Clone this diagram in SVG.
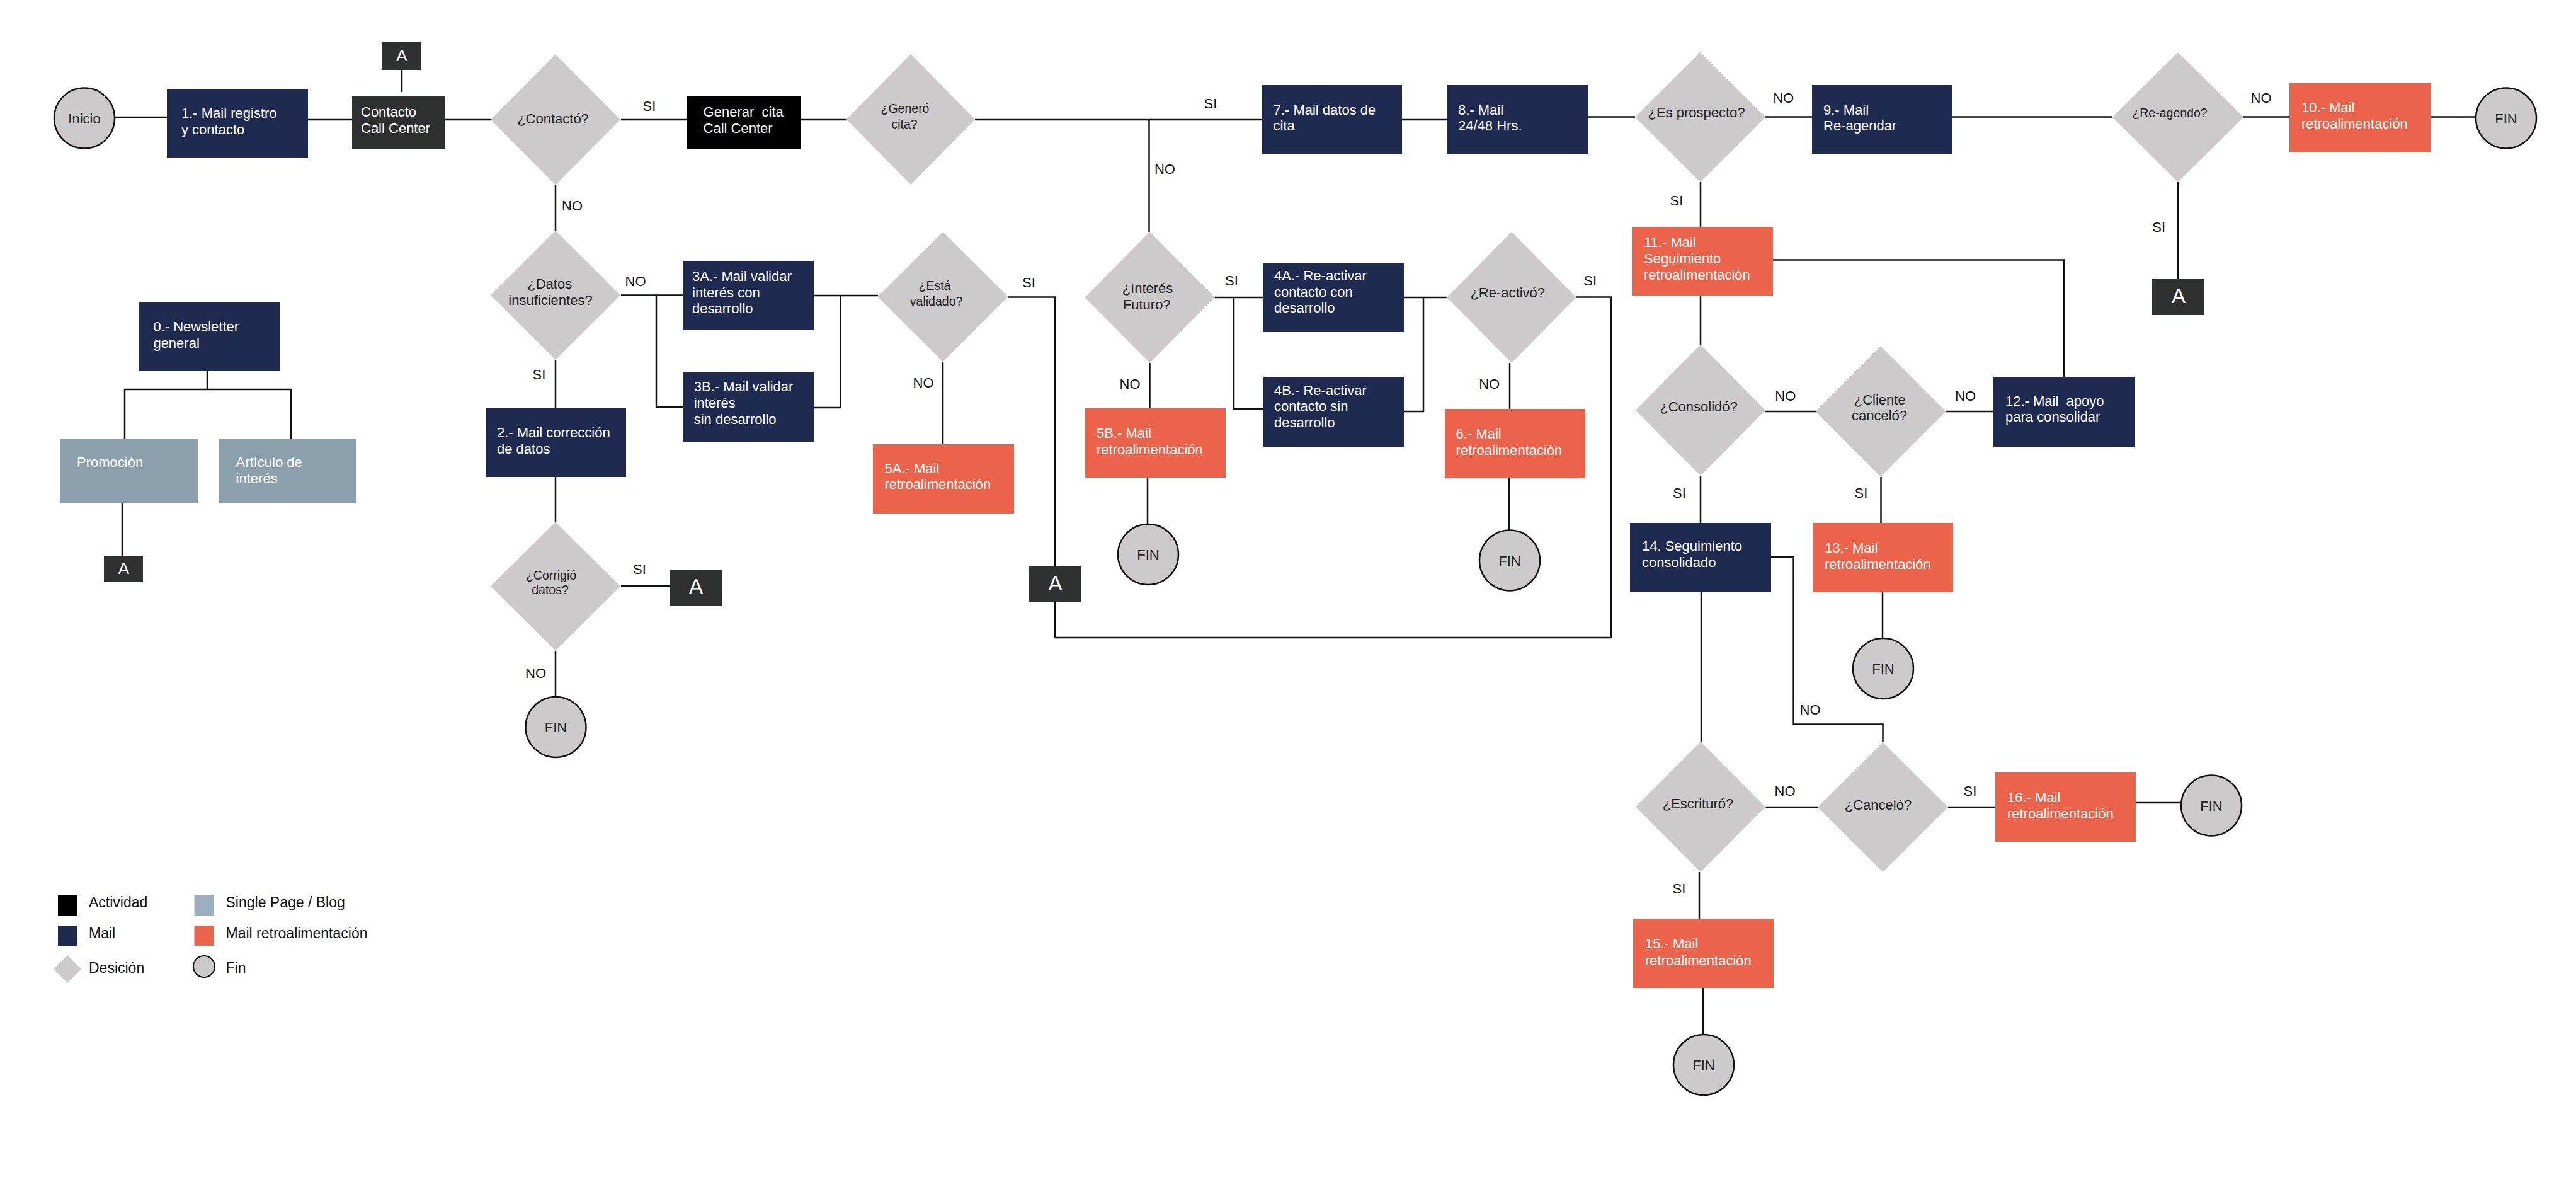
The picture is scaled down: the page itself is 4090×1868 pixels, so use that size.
<svg xmlns="http://www.w3.org/2000/svg" width="4090" height="1868" viewBox="0 0 4090 1868">
<style>
.bg{fill:#ffffff}
.navy{fill:#1e2a4f}
.orange{fill:#eb634a}
.dark{fill:#2f3130}
.black{fill:#000000}
.slate{fill:#8b9fad}
.slate2{fill:#9cafbe}
.dia{fill:#cdcacb}
.circ{fill:#cdcacb;stroke:#111;stroke-width:2.5}
.wt{font-family:"Liberation Sans",Arial,sans-serif;font-size:22px;fill:#ffffff;white-space:pre}
.dt{font-family:"Liberation Sans",Arial,sans-serif;font-size:22px;fill:#222222;text-anchor:middle}
.ds{font-size:19.5px}
.lb{font-family:"Liberation Sans",Arial,sans-serif;font-size:22px;fill:#111111;text-anchor:middle}
.at{font-family:"Liberation Sans",Arial,sans-serif;fill:#ffffff;text-anchor:middle}
.lg{font-family:"Liberation Sans",Arial,sans-serif;font-size:23px;fill:#111111}
.conn{fill:none;stroke:#111111;stroke-width:2.5}
</style>
<rect class="bg" x="0" y="0" width="4090" height="1868"/>

<g id="connectors">
<path class="conn" d="M182 186 H265 M489 190 H559 M638 111 V146 M706 190 H779 M986 190 H1090 M1272 190 H1345 M1548 190 H2003 M1824.5 190 V368 M2226 190 H2297 M2521 185.5 H2596 M2803 185.5 H2877 M3100 185.5 H3354 M3562 185.5 H3635 M3859 185.5 H3931 M3458 289 V443 M2700 289 V360"/>
<path class="conn" d="M2815 412.5 H3277 V599 M2700 469 V547 M2803 653 H2883 M3090 653 H3165 M2700 755 V830 M2986.5 757 V830 M2989 940 V1013 M2701 940 V1177 M2812 884 H2847.6 V1149.6 H2989.5 V1178 M2803.5 1281 H2886 M3093 1281 H3168 M3391 1274 H3463 M2698 1384 V1458 M2704 1568 V1642"/>
<path class="conn" d="M882 293 V366 M986 468.5 H1085 M1042 468.5 V646 H1085 M882 571 V648 M882 757 V829 M986 930 H1063 M882 1033 V1106 M1292 469 H1394 M1334.5 469 V647 H1292 M1600.5 471.5 H1675 V898 M1675 956 V1012 H2558 V471.5 H2502.5 M1497 574 V705 M1928.5 472 H2005 M1959 472 V649 H2005 M1825.5 576 V648 M1822 758 V832 M2229 472 H2297.5 M2260 472 V653 H2229 M2397 576 V649 M2396 759 V841"/>
<path class="conn" d="M329 589 V618 M198 696 V618 H462 V696 M194 798 V882"/>
</g>

<g id="labels">
<text class="lb" x="1031" y="176">SI</text>
<text class="lb" x="908.5" y="334">NO</text>
<text class="lb" x="1009" y="454">NO</text>
<text class="lb" x="856" y="602">SI</text>
<text class="lb" x="1015.5" y="911">SI</text>
<text class="lb" x="850.5" y="1076">NO</text>
<text class="lb" x="1922" y="172">SI</text>
<text class="lb" x="1849.4" y="276">NO</text>
<text class="lb" x="1633.6" y="456">SI</text>
<text class="lb" x="1466" y="615">NO</text>
<text class="lb" x="1955.5" y="453">SI</text>
<text class="lb" x="1794" y="617">NO</text>
<text class="lb" x="2524.7" y="453">SI</text>
<text class="lb" x="2364.7" y="617">NO</text>
<text class="lb" x="2831.7" y="162.5">NO</text>
<text class="lb" x="2662" y="325.7">SI</text>
<text class="lb" x="3590" y="162.5">NO</text>
<text class="lb" x="3427.7" y="367.5">SI</text>
<text class="lb" x="2834.8" y="636">NO</text>
<text class="lb" x="3120.5" y="636">NO</text>
<text class="lb" x="2666.5" y="790">SI</text>
<text class="lb" x="2955" y="790">SI</text>
<text class="lb" x="2874" y="1134">NO</text>
<text class="lb" x="2834" y="1263">NO</text>
<text class="lb" x="3128" y="1263">SI</text>
<text class="lb" x="2666" y="1418">SI</text>
</g>

<g id="inicio"><circle class="circ" cx="134" cy="187.5" r="48"/><text class="dt" x="134" y="195.5">Inicio</text></g>
<g id="n1"><rect class="navy" x="265" y="141" width="224" height="109"/><text class="wt" x="288" y="187">1.- Mail registro</text><text class="wt" x="288" y="213">y contacto</text></g>
<g id="contacto"><rect class="dark" x="559" y="153" width="147" height="84"/><text class="wt" x="573" y="184.6">Contacto</text><text class="wt" x="573" y="211.4">Call Center</text></g>
<g id="a-top"><rect class="dark" x="606" y="67" width="63" height="44"/><text class="at" x="638" y="97" font-size="26">A</text></g>
<g id="d-contacto"><polygon class="dia" points="882,86.5 985,190 882,293.5 779,190"/><text class="dt" x="878" y="196">¿Contactó?</text></g>
<g id="generar"><rect class="black" x="1090" y="153" width="182" height="84"/><text class="wt" x="1116.6" y="184.6">Generar  cita</text><text class="wt" x="1116.6" y="210.7">Call Center</text></g>
<g id="d-genero"><polygon class="dia" points="1446,86 1548,189.5 1446,293 1344,189.5"/><text class="dt ds" x="1437" y="179.3">¿Generó</text><text class="dt ds" x="1436" y="203.6">cita?</text></g>
<g id="n7"><rect class="navy" x="2003" y="135" width="223" height="110"/><text class="wt" x="2021.6" y="181.8">7.- Mail datos de</text><text class="wt" x="2021.6" y="207">cita</text></g>
<g id="n8"><rect class="navy" x="2297" y="135" width="224" height="110"/><text class="wt" x="2315" y="181.8">8.- Mail</text><text class="wt" x="2315" y="207">24/48 Hrs.</text></g>
<g id="d-prospecto"><polygon class="dia" points="2699.5,83 2803,186 2699.5,289 2596,186"/><text class="dt" x="2693.5" y="185.7">¿Es prospecto?</text></g>
<g id="n9"><rect class="navy" x="2877" y="135" width="223" height="110"/><text class="wt" x="2895" y="181.8">9.- Mail</text><text class="wt" x="2895" y="207">Re-agendar</text></g>
<g id="d-reagendo"><polygon class="dia" points="3458,83 3562,186 3458,289 3354,186"/><text class="dt ds" x="3445" y="185.7">¿Re-agendo?</text></g>
<g id="n10"><rect class="orange" x="3635" y="132" width="224" height="110"/><text class="wt" x="3654" y="177.5">10.- Mail</text><text class="wt" x="3654" y="203.6">retroalimentación</text></g>
<g id="fin1"><circle class="circ" cx="3979" cy="187.5" r="48"/><text class="dt" x="3979" y="195.5">FIN</text></g>
<g id="a-right"><rect class="dark" x="3417" y="443" width="83" height="57"/><text class="at" x="3459" y="481" font-size="33">A</text></g>
<g id="n11"><rect class="orange" x="2591" y="360" width="224" height="109"/><text class="wt" x="2610" y="391.8">11.- Mail</text><text class="wt" x="2610" y="417.9">Seguimiento</text><text class="wt" x="2610" y="443.6">retroalimentación</text></g>
<g id="d-consolido"><polygon class="dia" points="2700,547 2803,651 2700,755 2597,651"/><text class="dt" x="2697" y="653">¿Consolidó?</text></g>
<g id="d-cliente"><polygon class="dia" points="2986,549.5 3089.5,653 2986,756.5 2882.5,653"/><text class="dt" x="2984.7" y="642">¿Cliente</text><text class="dt" x="2984" y="667.4">canceló?</text></g>
<g id="n12"><rect class="navy" x="3165" y="599" width="225" height="110"/><text class="wt" x="3184" y="643.75">12.- Mail  apoyo</text><text class="wt" x="3184" y="668.75">para consolidar</text></g>
<g id="n14"><rect class="navy" x="2588" y="830" width="224" height="110"/><text class="wt" x="2607" y="874">14. Seguimiento</text><text class="wt" x="2607" y="899.5">consolidado</text></g>
<g id="n13"><rect class="orange" x="2878" y="830" width="223" height="110"/><text class="wt" x="2897" y="877">13.- Mail</text><text class="wt" x="2897" y="903">retroalimentación</text></g>
<g id="fin13"><circle class="circ" cx="2990" cy="1061" r="48"/><text class="dt" x="2990" y="1069">FIN</text></g>
<g id="d-escrituro"><polygon class="dia" points="2700,1177 2803,1280.5 2700,1384 2597,1280.5"/><text class="dt" x="2696" y="1283">¿Escrituró?</text></g>
<g id="d-cancelo"><polygon class="dia" points="2989.5,1178 3093,1281 2989.5,1384 2886,1281"/><text class="dt" x="2982" y="1285">¿Canceló?</text></g>
<g id="n16"><rect class="orange" x="3168" y="1226" width="223" height="110"/><text class="wt" x="3187" y="1273">16.- Mail</text><text class="wt" x="3187" y="1298.7">retroalimentación</text></g>
<g id="fin16"><circle class="circ" cx="3511" cy="1278.5" r="48"/><text class="dt" x="3511" y="1286.5">FIN</text></g>
<g id="n15"><rect class="orange" x="2593" y="1458" width="223" height="110"/><text class="wt" x="2612" y="1505">15.- Mail</text><text class="wt" x="2612" y="1531.7">retroalimentación</text></g>
<g id="fin15"><circle class="circ" cx="2705" cy="1690" r="48"/><text class="dt" x="2705" y="1698">FIN</text></g>
<g id="d-datos"><polygon class="dia" points="882,366 985,468.5 882,571 779,468.5"/><text class="dt" x="872.7" y="458">¿Datos</text><text class="dt" x="874" y="484">insuficientes?</text></g>
<g id="n2"><rect class="navy" x="771" y="648" width="223" height="109"/><text class="wt" x="789" y="694.4">2.- Mail corrección</text><text class="wt" x="789" y="720">de datos</text></g>
<g id="d-corrigio"><polygon class="dia" points="882,828.5 985,930.5 882,1032.5 779,930.5"/><text class="dt ds" x="875" y="920.4">¿Corrigió</text><text class="dt ds" x="873.5" y="943">datos?</text></g>
<g id="a-corrigio"><rect class="dark" x="1063" y="904" width="83" height="57"/><text class="at" x="1105" y="942" font-size="33">A</text></g>
<g id="fin2"><circle class="circ" cx="882.5" cy="1154" r="48"/><text class="dt" x="882.5" y="1162">FIN</text></g>
<g id="n3a"><rect class="navy" x="1085" y="414" width="207" height="110"/><text class="wt" x="1099" y="446">3A.- Mail validar</text><text class="wt" x="1099" y="471.7">interés con</text><text class="wt" x="1099" y="497.3">desarrollo</text></g>
<g id="n3b"><rect class="navy" x="1085" y="591" width="207" height="110"/><text class="wt" x="1101.7" y="620.7">3B.- Mail validar</text><text class="wt" x="1101.7" y="646.7">interés</text><text class="wt" x="1101.7" y="673.3">sin desarrollo</text></g>
<g id="d-validado"><polygon class="dia" points="1497,368 1600.5,471 1497,574 1393.5,471"/><text class="dt ds" x="1484" y="460">¿Está</text><text class="dt ds" x="1486.6" y="485">validado?</text></g>
<g id="n5a"><rect class="orange" x="1386" y="705" width="224" height="110"/><text class="wt" x="1404.5" y="750.6">5A.- Mail</text><text class="wt" x="1404.5" y="776">retroalimentación</text></g>
<g id="a-loop"><rect class="dark" x="1633" y="898" width="83" height="58"/><text class="at" x="1675.6" y="937" font-size="33">A</text></g>
<g id="d-interes"><polygon class="dia" points="1825.5,368 1928.5,472 1825.5,576 1722.5,472"/><text class="dt" x="1822" y="465">¿Interés</text><text class="dt" x="1820.7" y="490.8">Futuro?</text></g>
<g id="n5b"><rect class="orange" x="1723" y="648" width="223" height="110"/><text class="wt" x="1741" y="694.8">5B.- Mail</text><text class="wt" x="1741" y="720.7">retroalimentación</text></g>
<g id="fin5b"><circle class="circ" cx="1823" cy="880" r="48"/><text class="dt" x="1823" y="888">FIN</text></g>
<g id="n4a"><rect class="navy" x="2005" y="417" width="224" height="110"/><text class="wt" x="2023" y="444.8">4A.- Re-activar</text><text class="wt" x="2023" y="470.7">contacto con</text><text class="wt" x="2023" y="496">desarrollo</text></g>
<g id="n4b"><rect class="navy" x="2005" y="599" width="224" height="110"/><text class="wt" x="2023" y="626.5">4B.- Re-activar</text><text class="wt" x="2023" y="652.4">contacto sin</text><text class="wt" x="2023" y="678">desarrollo</text></g>
<g id="d-reactivo"><polygon class="dia" points="2400,368 2502.5,472 2400,576 2297.5,472"/><text class="dt" x="2393.7" y="471.6">¿Re-activó?</text></g>
<g id="n6"><rect class="orange" x="2294" y="649" width="223" height="110"/><text class="wt" x="2311.6" y="695.7">6.- Mail</text><text class="wt" x="2311.6" y="721.6">retroalimentación</text></g>
<g id="fin6"><circle class="circ" cx="2397" cy="889.5" r="48"/><text class="dt" x="2397" y="897.5">FIN</text></g>
<g id="n0"><rect class="navy" x="221" y="480" width="223" height="109"/><text class="wt" x="243.4" y="526">0.- Newsletter</text><text class="wt" x="243.4" y="552">general</text></g>
<g id="promocion"><rect class="slate" x="95" y="696" width="219" height="102"/><text class="wt" x="122" y="740.8">Promoción</text></g>
<g id="articulo"><rect class="slate" x="348" y="696" width="218" height="102"/><text class="wt" x="374.6" y="740.8">Artículo de</text><text class="wt" x="374.6" y="767">interés</text></g>
<g id="a-news"><rect class="dark" x="165" y="882" width="62" height="42"/><text class="at" x="196.5" y="911" font-size="26">A</text></g>

<g id="legend">
<rect class="black" x="92" y="1421" width="31" height="32"/><text class="lg" x="141" y="1440">Actividad</text>
<rect class="navy" x="92" y="1469" width="31" height="32"/><text class="lg" x="141" y="1489">Mail</text>
<polygon class="dia" points="107,1516 129,1538 107,1560 85,1538"/><text class="lg" x="141" y="1544">Desición</text>
<rect class="slate2" x="308.5" y="1421" width="31" height="32"/><text class="lg" x="358.5" y="1440">Single Page / Blog</text>
<rect class="orange" x="308.5" y="1469" width="31" height="32"/><text class="lg" x="358.5" y="1489">Mail retroalimentación</text>
<circle cx="324" cy="1534" r="17" fill="#cdcacb" stroke="#111" stroke-width="2"/><text class="lg" x="358.5" y="1544">Fin</text>
</g>
</svg>
